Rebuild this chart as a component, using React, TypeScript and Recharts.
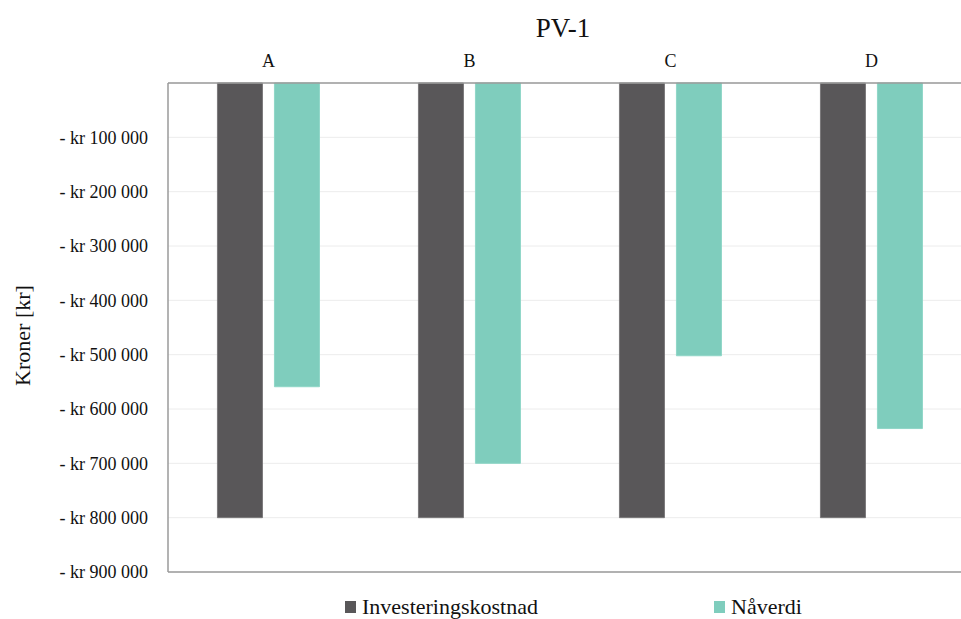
import React from "react";
import { BarChart, Bar, XAxis, YAxis, CartesianGrid, ReferenceLine, Label } from "recharts";

const categories = ["A", "B", "C", "D"];
const investeringskostnad = [-800000, -800000, -800000, -800000];
const naverdi = [-559000, -700000, -502000, -636000];
const yTicks = [-100000, -200000, -300000, -400000, -500000, -600000, -700000, -800000, -900000];

const seriesNames = ["Investeringskostnad", "Nåverdi"];
const DARK = "#595759";
const TEAL = "#7fcdbd";
const FONT = "'Liberation Serif', 'Times New Roman', serif";

const data = categories.map((c, i) => ({
  name: c,
  inv: investeringskostnad[i],
  nv: naverdi[i],
}));

const fmt = (v: number) => {
  const abs = Math.abs(v);
  const s = abs.toString().replace(/\B(?=(\d{3})+(?!\d))/g, " ");
  return `- kr ${s}`;
};

const YLabel = (props: any) => {
  const vb = props.viewBox || {};
  const cy = vb.y + vb.height / 2 + 8;
  const x = 22;
  return (
    <text
      x={x}
      y={cy}
      transform={`rotate(-90 ${x} ${cy})`}
      textAnchor="middle"
      dominantBaseline="central"
      style={{ fontFamily: FONT, fontSize: 22, fill: "#111" }}
    >
      Kroner [kr]
    </text>
  );
};

export default function App() {
  return (
    <div
      style={{
        position: "absolute",
        left: 0,
        top: 0,
        width: 961,
        height: 619,
        overflow: "hidden",
        background: "#fff",
      }}
    >
      <div
        style={{
          position: "absolute",
          left: 0,
          top: 8,
          width: 1126,
          textAlign: "center",
          fontFamily: FONT,
          fontSize: 27,
          color: "#111",
          lineHeight: "40px",
        }}
      >
        PV-1
      </div>
      <BarChart
        width={975}
        height={619}
        data={data}
        margin={{ top: 53, right: 3, bottom: 47, left: 0 }}
        barCategoryGap="24.6%"
        barGap={12}
      >
        <CartesianGrid vertical={false} stroke="#ececec" />
        <XAxis
          dataKey="name"
          orientation="top"
          height={30}
          tickLine={false}
          axisLine={{ stroke: "#9a9a9a", strokeWidth: 1.5 }}
          tick={{ fontFamily: FONT, fontSize: 18, fill: "#111" }}
          tickMargin={10}
        />
        <YAxis
          width={168}
          domain={[-900000, 0]}
          ticks={yTicks}
          tickFormatter={fmt}
          tickLine={false}
          axisLine={{ stroke: "#9a9a9a", strokeWidth: 1.5 }}
          tick={{ fontFamily: FONT, fontSize: 18, fill: "#111" }}
          tickMargin={14}
          interval={0}
        >
          <Label content={<YLabel />} />
        </YAxis>
        <ReferenceLine y={-900000} stroke="#9a9a9a" strokeWidth={1.5} />
        <Bar dataKey="inv" name={seriesNames[0]} fill={DARK} stroke="#7a787a" strokeWidth={1} isAnimationActive={false} />
        <Bar dataKey="nv" name={seriesNames[1]} fill={TEAL} stroke="#8fd6c7" strokeWidth={1} isAnimationActive={false} />
      </BarChart>
      {[
        { name: seriesNames[0], color: DARK, left: 345 },
        { name: seriesNames[1], color: TEAL, left: 714 },
      ].map((it) => (
        <div
          key={it.name}
          style={{
            position: "absolute",
            left: it.left,
            top: 594,
            display: "flex",
            alignItems: "center",
            fontFamily: FONT,
            fontSize: 22,
            color: "#111",
            lineHeight: "26px",
          }}
        >
          <span style={{ display: "inline-block", width: 11, height: 12, background: it.color, marginRight: 6 }} />
          {it.name}
        </div>
      ))}
    </div>
  );
}
